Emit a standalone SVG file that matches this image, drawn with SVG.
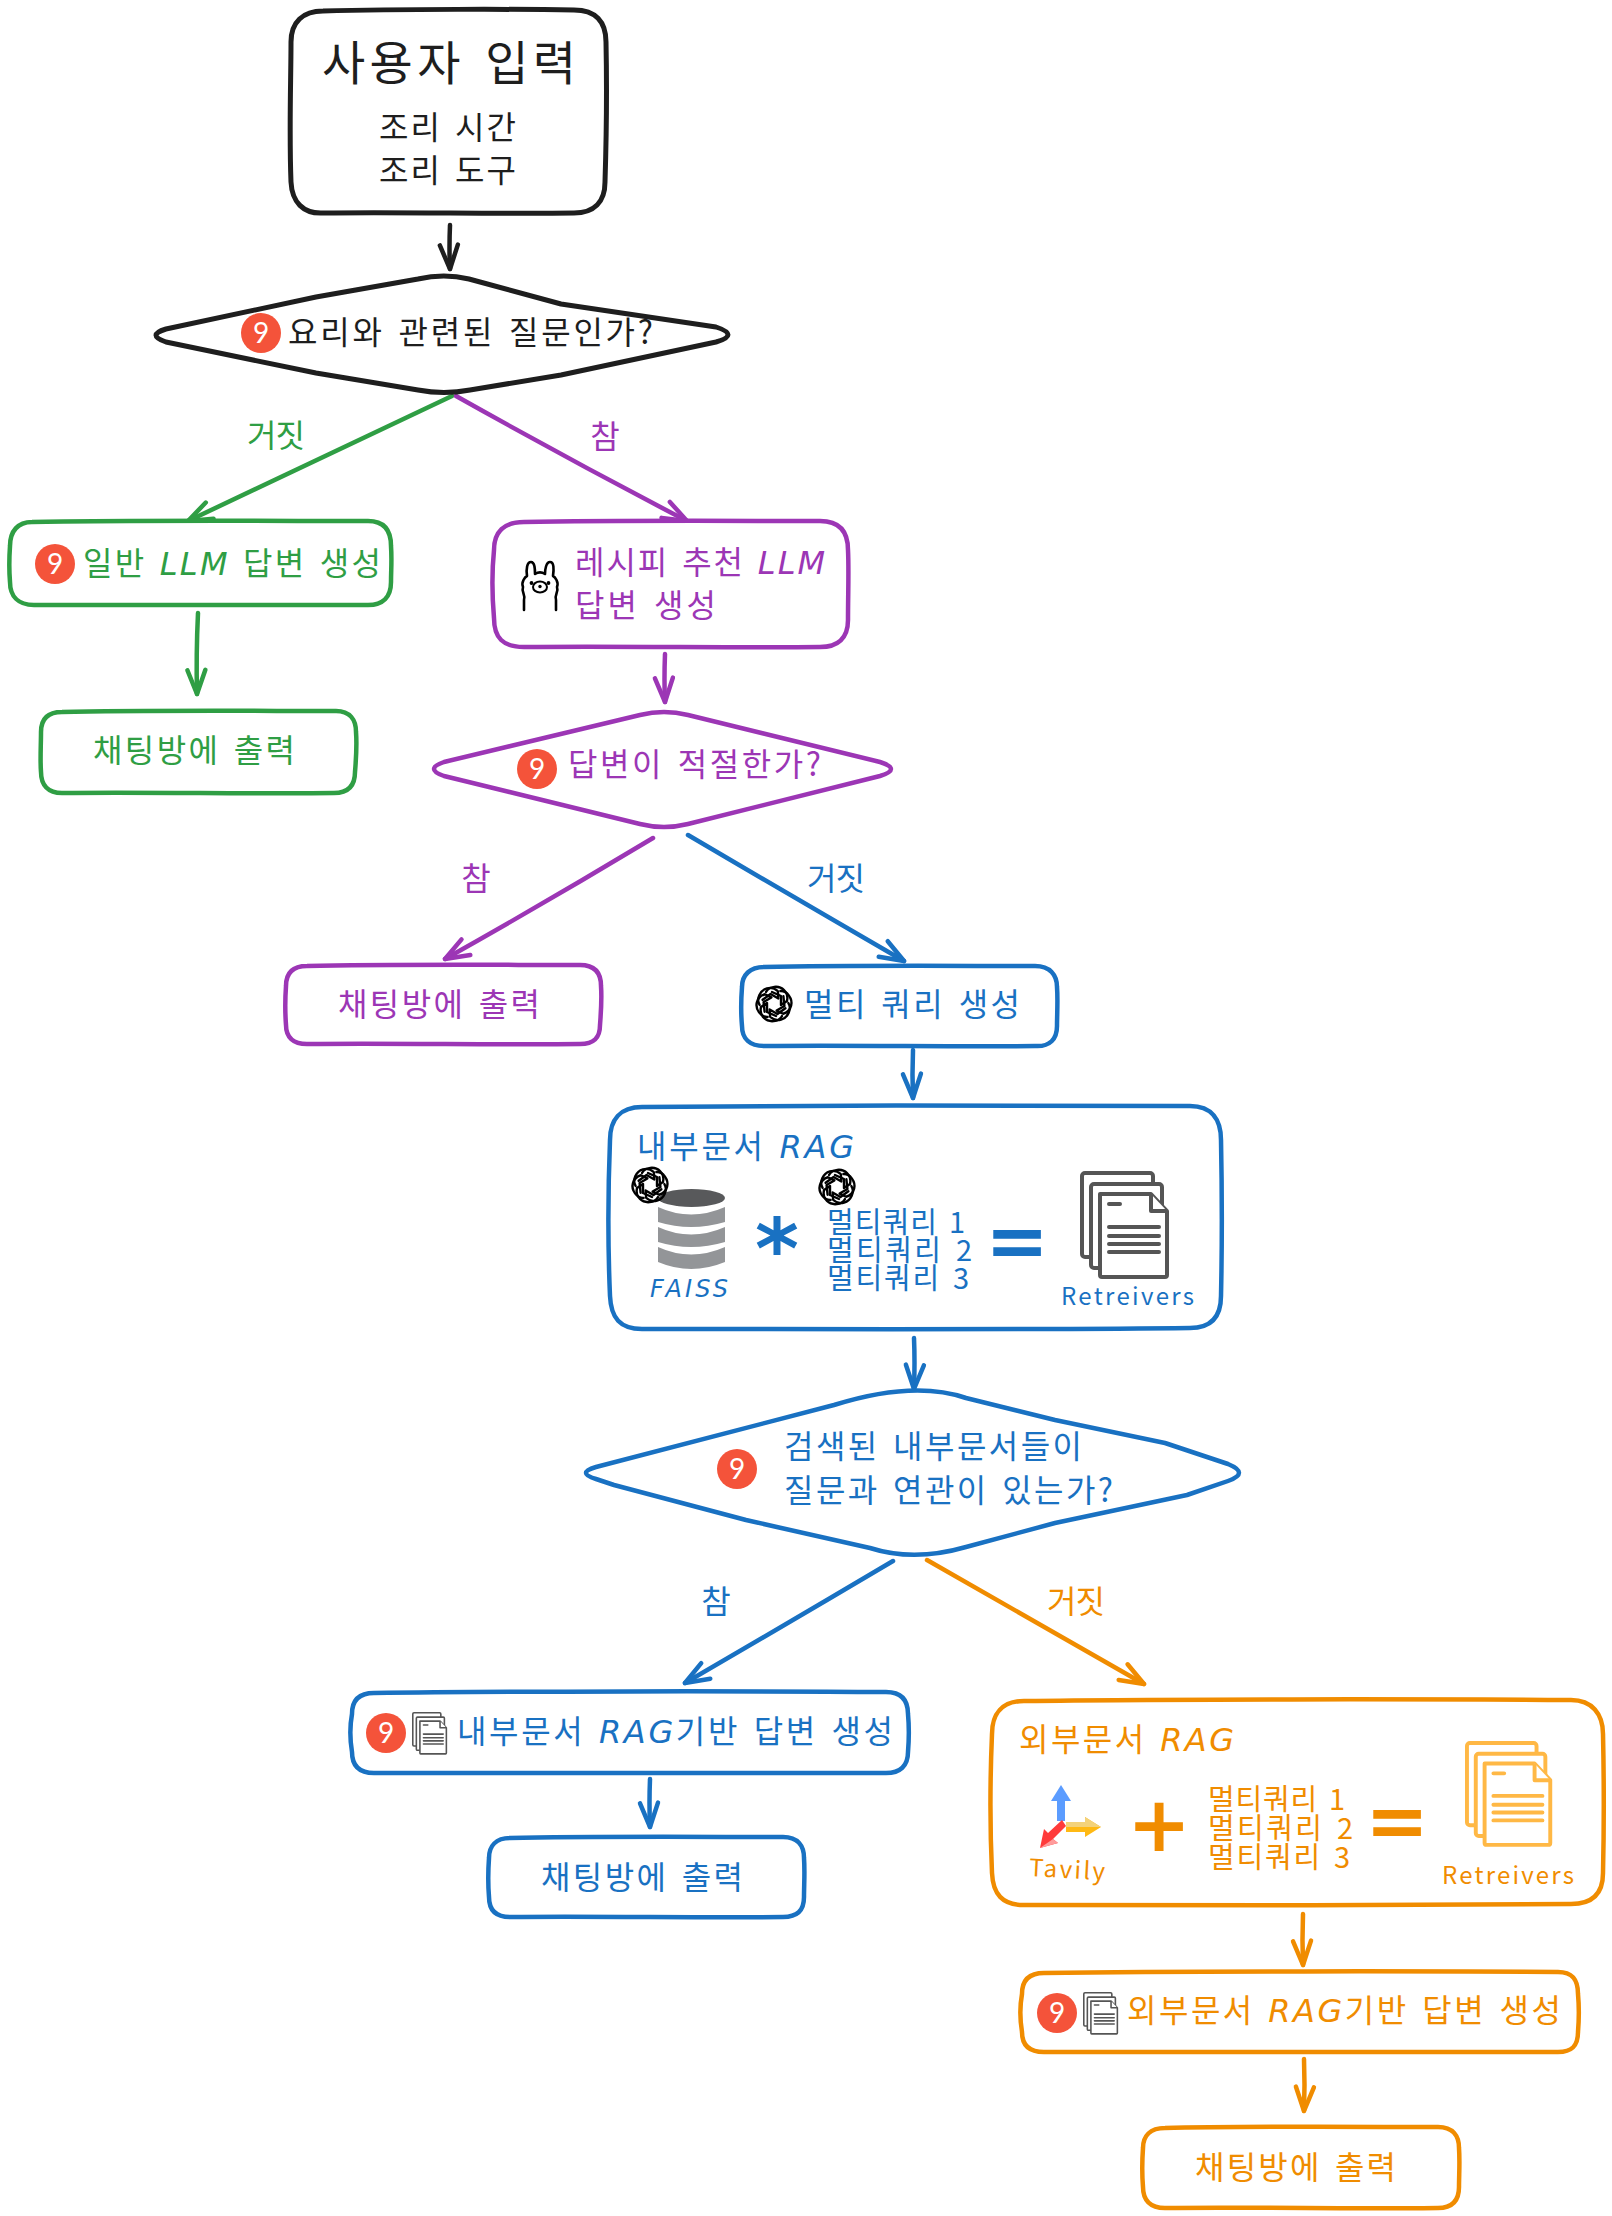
<svg xmlns="http://www.w3.org/2000/svg" xmlns:xlink="http://www.w3.org/1999/xlink" width="1612" height="2216" viewBox="0 0 1612 2216">
<style>
text{font-family:"Noto Sans CJK KR","Noto Sans",sans-serif;font-size:32px;word-spacing:.12em}
.k{color:#1e1e1e}.g{color:#2f9e44}.p{color:#9c36b5}.b{color:#1971c2}.o{color:#f08c00}
.k text,.g text,.p text,.b text,.o text{fill:currentColor}
.shape{fill:#fff;stroke:currentColor;stroke-width:4.500;stroke-linejoin:round}
.lat{font-family:"DejaVu Sans",sans-serif;font-style:italic}
.m{text-anchor:middle}
.s28{font-size:29px}.s24{font-size:24px}
.conn path{fill:none;stroke-width:4.500;stroke-linecap:round}
.badge circle{fill:#f4533a}
.badge text{fill:#fff;font-family:Lato,sans-serif;font-size:28px;text-anchor:middle}
.sym{font-family:"DejaVu Sans",sans-serif;font-weight:bold;text-anchor:middle;word-spacing:0}
.sheet{fill:#fff;stroke:currentColor;stroke-width:4;stroke-linejoin:round}
.ln{fill:none;stroke:currentColor;stroke-width:4;stroke-linecap:round}
.arm{fill:none;stroke:#000;stroke-width:2.400;stroke-linecap:round;stroke-linejoin:round}
</style>
<defs>
<marker id="mk" markerUnits="userSpaceOnUse" markerWidth="30" markerHeight="24" refX="28" refY="12" orient="auto" overflow="visible"><path d="M4 3L28 12L4 21" fill="none" stroke="#1e1e1e" stroke-width="4.500" stroke-linecap="round" stroke-linejoin="round"/></marker>
<marker id="mg" markerUnits="userSpaceOnUse" markerWidth="30" markerHeight="24" refX="28" refY="12" orient="auto" overflow="visible"><path d="M4 3L28 12L4 21" fill="none" stroke="#2f9e44" stroke-width="4.500" stroke-linecap="round" stroke-linejoin="round"/></marker>
<marker id="mp" markerUnits="userSpaceOnUse" markerWidth="30" markerHeight="24" refX="28" refY="12" orient="auto" overflow="visible"><path d="M4 3L28 12L4 21" fill="none" stroke="#9c36b5" stroke-width="4.500" stroke-linecap="round" stroke-linejoin="round"/></marker>
<marker id="mb" markerUnits="userSpaceOnUse" markerWidth="30" markerHeight="24" refX="28" refY="12" orient="auto" overflow="visible"><path d="M4 3L28 12L4 21" fill="none" stroke="#1971c2" stroke-width="4.500" stroke-linecap="round" stroke-linejoin="round"/></marker>
<marker id="mo" markerUnits="userSpaceOnUse" markerWidth="30" markerHeight="24" refX="28" refY="12" orient="auto" overflow="visible"><path d="M4 3L28 12L4 21" fill="none" stroke="#f08c00" stroke-width="4.500" stroke-linecap="round" stroke-linejoin="round"/></marker>
<g id="docs">
<rect class="sheet" x="2" y="2" width="71" height="84" rx="3"/>
<rect class="sheet" x="11" y="13" width="71" height="84" rx="3"/>
<path class="sheet" d="M20 23H71L87 40V104Q87 106 85 106H22Q20 106 20 104Z"/>
<path class="sheet" d="M71 23V40H87" fill="none"/>
<path class="ln" d="M29 33H40M29 56H79M29 65H79M29 73H79M29 81H79"/>
</g>
<path id="ai-arm" class="arm" d="M-8 -12C-5 -18 5 -19 10 -14C13 -11 14 -7 13 -3L7 1V-8L-2 -12"/>
<g id="ai">
<circle r="15" fill="#fff"/>
<use href="#ai-arm"/>
<use href="#ai-arm" transform="rotate(60)"/>
<use href="#ai-arm" transform="rotate(120)"/>
<use href="#ai-arm" transform="rotate(180)"/>
<use href="#ai-arm" transform="rotate(240)"/>
<use href="#ai-arm" transform="rotate(300)"/>
</g>
</defs>

<g id="connectors" class="conn">
<path stroke="#1e1e1e" marker-end="url(#mk)" d="M450 225Q449 248 450 269"/>
<path stroke="#2f9e44" marker-end="url(#mg)" d="M452 396Q320 458 188 521"/>
<path stroke="#9c36b5" marker-end="url(#mp)" d="M456 396Q570 460 687 521"/>
<path stroke="#2f9e44" marker-end="url(#mg)" d="M198 613Q196 655 197 694"/>
<path stroke="#9c36b5" marker-end="url(#mp)" d="M665 654Q664 680 665 702"/>
<path stroke="#9c36b5" marker-end="url(#mp)" d="M653 838Q550 900 445 959"/>
<path stroke="#1971c2" marker-end="url(#mb)" d="M688 835Q795 898 904 961"/>
<path stroke="#1971c2" marker-end="url(#mb)" d="M913 1050Q912 1075 913 1098"/>
<path stroke="#1971c2" marker-end="url(#mb)" d="M914 1338Q915 1362 914 1389"/>
<path stroke="#1971c2" marker-end="url(#mb)" d="M893 1561Q790 1622 685 1683"/>
<path stroke="#f08c00" marker-end="url(#mo)" d="M927 1560Q1035 1622 1144 1684"/>
<path stroke="#1971c2" marker-end="url(#mb)" d="M650 1779Q649 1803 650 1827"/>
<path stroke="#f08c00" marker-end="url(#mo)" d="M1303 1914Q1302 1940 1303 1965"/>
<path stroke="#f08c00" marker-end="url(#mo)" d="M1304 2059Q1305 2085 1304 2111"/>
</g>

<g id="edge-labels">
<g class="g"><text class="m" x="276" y="447" textLength="58">거짓</text></g>
<g class="p"><text class="m" x="605" y="448">참</text></g>
<g class="p"><text class="m" x="476" y="890">참</text></g>
<g class="b"><text class="m" x="836" y="890" textLength="58">거짓</text></g>
<g class="b"><text class="m" x="716" y="1613">참</text></g>
<g class="o"><text class="m" x="1076" y="1613" textLength="58">거짓</text></g>
</g>

<g id="input" class="k">
<path class="shape" style="stroke-width:5" d="M323 11C400 9 520 9 574 10C596 10 606 22 606 42C607 90 606 150 605 182C605 202 594 213 574 213C500 214 400 212 323 213C303 214 292 202 291 182C289 130 291 80 291 42C291 22 303 11 323 11Z"/>
<text x="322" y="80" style="font-size:47px" textLength="254">사용자 입력</text>
<text x="379" y="139" textLength="137">조리 시간</text>
<text x="379" y="182" textLength="137">조리 도구</text>
</g>

<g id="decision-cooking" class="k">
<path class="shape" style="stroke-width:5" d="M166 329L316 297L418 279Q444 273 469 279L561 304L716 327Q740 335 716 342L561 375L470 390Q444 395 418 390L316 373L166 342Q146 335 166 329Z"/>
<g class="badge"><circle cx="261" cy="333" r="20"/><text x="261" y="343">9</text></g>
<text x="288" y="344" textLength="365">요리와 관련된 질문인가?</text>
</g>

<g id="general-llm" class="g">
<path class="shape" d="M32 522C120 520 280 521 368 521C384 521 391 530 391 546C392 560 391 570 391 582C391 597 383 605 368 605C280 606 120 604 34 605C18 605 10 596 10 582C9 570 9 560 10 546C10 531 18 522 32 522Z"/>
<g class="badge"><circle cx="55" cy="564" r="20"/><text x="55" y="574">9</text></g>
<text x="83" y="575" textLength="298">일반 <tspan class="lat">LLM</tspan> 답변 생성</text>
</g>

<g id="general-output" class="g">
<path class="shape" d="M62 712C140 710 260 711 336 711C350 711 356 720 356 732C357 745 356 760 355 772C355 786 348 793 334 793C260 794 140 792 62 793C48 793 41 785 41 772C40 760 41 745 41 732C41 719 48 712 62 712Z"/>
<text x="93" y="762" textLength="202">채팅방에 출력</text>
</g>

<g id="recipe-llm" class="p">
<path class="shape" d="M524 522C620 520 740 521 820 521C840 521 848 532 848 550C849 570 848 595 848 620C848 638 838 647 820 647C740 648 620 646 524 647C503 647 494 638 494 618C492 595 492 570 494 550C494 532 504 522 524 522Z"/>
<g id="llama-icon" transform="translate(540 585)"><path d="M-16 25V15C-14 10 -19 7 -17 2C-19 -3 -15 -8 -13 -9C-14 -16 -13 -23 -9 -23C-5 -23 -5 -15 -5 -11C-2 -13 2 -13 5 -11C5 -15 6 -23 10 -23C14 -23 14 -16 13 -9C15 -8 19 -3 17 2C19 7 14 10 16 15V25" fill="none" stroke="#000" stroke-width="2.600" stroke-linejoin="round" stroke-linecap="round"/><ellipse cx="0" cy="2" rx="7" ry="5.500" fill="none" stroke="#000" stroke-width="2"/><circle cx="0" cy="1.500" r="1.700"/><circle cx="-8.500" cy="-2" r="1.900"/><circle cx="8.500" cy="-2" r="1.900"/></g>
<text x="575" y="574" textLength="250">레시피 추천 <tspan class="lat">LLM</tspan></text>
<text x="575" y="617" textLength="141">답변 생성</text>
</g>

<g id="decision-answer" class="p">
<path class="shape" d="M444 762L640 715Q664 709 688 715L880 762Q902 769 880 776L688 824Q664 830 640 824L444 776Q424 769 444 762Z"/>
<g class="badge"><circle cx="537" cy="769" r="20"/><text x="537" y="779">9</text></g>
<text x="568" y="776" textLength="253">답변이 적절한가?</text>
</g>

<g id="recipe-output" class="p">
<path class="shape" d="M307 966C390 964 500 965 580 965C595 965 601 973 601 986C602 1000 601 1012 600 1025C600 1038 594 1044 580 1044C500 1045 390 1043 307 1044C293 1044 286 1037 286 1025C285 1012 285 1000 286 986C286 973 293 966 307 966Z"/>
<text x="338" y="1016" textLength="202">채팅방에 출력</text>
</g>

<g id="multi-query" class="b">
<path class="shape" d="M764 967C850 965 960 966 1035 966C1050 966 1057 975 1057 987C1058 1000 1057 1015 1057 1026C1057 1039 1050 1047 1035 1046C960 1047 850 1045 764 1046C750 1046 742 1039 742 1026C741 1015 741 1000 742 987C742 975 750 967 764 967Z"/>
<use href="#ai" transform="translate(774 1004)"/>
<text x="804" y="1016" textLength="216">멀티 쿼리 생성</text>
</g>

<g id="internal-rag" class="b">
<path class="shape" d="M642 1107C800 1105 1050 1105 1190 1106C1212 1106 1221 1120 1221 1140C1222 1190 1222 1250 1221 1296C1221 1318 1210 1328 1190 1328C1050 1330 800 1329 642 1329C620 1329 611 1318 610 1296C608 1250 608 1190 610 1140C610 1120 620 1107 642 1107Z"/>
<text x="637" y="1158" textLength="217">내부문서 <tspan class="lat">RAG</tspan></text>
<g id="faiss-db">
<path d="M658 1207Q691 1222 725 1207V1222Q691 1232 658 1222Z" fill="#939598"/>
<path d="M658 1227Q691 1242 725 1227V1242Q691 1252 658 1242Z" fill="#939598"/>
<path d="M658 1247Q691 1262 725 1247V1262Q691 1276 658 1262Z" fill="#939598"/>
<ellipse cx="691.500" cy="1198" rx="33.500" ry="9" fill="#58595b"/>
</g>
<use href="#ai" transform="translate(650 1185)"/>
<text class="lat" x="650" y="1297" style="font-size:24px" textLength="78">FAISS</text>
<text class="sym" x="777" y="1278" style="font-size:84px">*</text>
<use href="#ai" transform="translate(837 1187)"/>
<text class="s28" x="827" y="1233" textLength="138">멀티쿼리 1</text>
<text class="s28" x="827" y="1261" textLength="145">멀티쿼리 2</text>
<text class="s28" x="827" y="1289" textLength="142">멀티쿼리 3</text>
<text class="sym" x="1017" y="1267" style="font-size:76px">=</text>
<use href="#docs" x="1080" y="1171" style="color:#555"/>
<text x="1061" y="1305" class="s24" textLength="133">Retreivers</text>
</g>

<g id="decision-relevance" class="b">
<path class="shape" d="M596 1467L834 1405Q914 1380 966 1398L1055 1420L1165 1443L1228 1464Q1250 1473 1228 1481L1187 1495L1055 1523L966 1547Q914 1562 870 1548L746 1520L614 1485L596 1479Q576 1473 596 1467Z"/>
<g class="badge"><circle cx="737" cy="1469" r="20"/><text x="737" y="1479">9</text></g>
<text x="784" y="1458" textLength="298">검색된 내부문서들이</text>
<text x="784" y="1502" textLength="329">질문과 연관이 있는가?</text>
</g>

<g id="internal-answer" class="b">
<path class="shape" d="M374 1693C500 1691 760 1691 886 1692C901 1692 908 1700 908 1714C909 1725 909 1740 908 1752C908 1766 900 1773 886 1773C760 1774 500 1772 374 1773C359 1773 352 1766 352 1752C350 1740 350 1725 352 1714C352 1700 359 1693 374 1693Z"/>
<g class="badge"><circle cx="386" cy="1733" r="20"/><text x="386" y="1743">9</text></g>
<use href="#docs" transform="translate(412 1712) scale(.395)" style="color:#555"/>
<text x="457" y="1743" textLength="436">내부문서 <tspan class="lat">RAG</tspan>기반 답변 생성</text>
</g>

<g id="internal-output" class="b">
<path class="shape" d="M510 1838C590 1836 710 1837 783 1837C798 1837 804 1846 804 1858C805 1872 804 1885 804 1897C804 1911 797 1917 783 1917C710 1918 590 1916 510 1917C496 1917 489 1910 489 1897C488 1885 488 1872 489 1858C489 1846 496 1838 510 1838Z"/>
<text x="541" y="1889" textLength="202">채팅방에 출력</text>
</g>

<g id="external-rag" class="o">
<path class="shape" d="M1024 1701C1160 1699 1420 1699 1571 1700C1592 1700 1603 1714 1603 1734C1604 1780 1604 1830 1603 1873C1603 1894 1592 1904 1571 1904C1420 1906 1160 1905 1024 1905C1002 1905 993 1894 992 1873C990 1830 990 1780 992 1734C992 1714 1002 1701 1024 1701Z"/>
<text x="1019" y="1751" textLength="215">외부문서 <tspan class="lat">RAG</tspan></text>
<g id="tavily-icon">
<path d="M1061 1785L1071 1801H1065V1821H1057V1801H1051Z" fill="#5b9cff"/>
<path d="M1101 1827L1085 1817V1822H1066V1832H1085V1837Z" fill="#ffb914"/>
<path d="M1066 1822H1085V1817L1101 1827H1066Z" fill="#f3d27a"/>
<path d="M1040 1848L1044 1829L1048 1833L1062 1820L1066 1826L1053 1839L1058 1843Z" fill="#ff3b3b"/>
<path d="M1040 1848L1053 1839L1058 1843Z" fill="#ff9c9c"/>
</g>
<text x="1029" y="1878" class="s24" textLength="76" transform="rotate(3 1066 1870)">Tavily</text>
<text class="sym" x="1159" y="1851" style="font-size:76px">+</text>
<text class="s28" x="1208" y="1810" textLength="137">멀티쿼리 1</text>
<text class="s28" x="1208" y="1839" textLength="145">멀티쿼리 2</text>
<text class="s28" x="1208" y="1868" textLength="142">멀티쿼리 3</text>
<text class="sym" x="1397" y="1847" style="font-size:76px">=</text>
<use href="#docs" transform="translate(1465 1741) scale(.98)" style="color:#ffb845"/>
<text x="1442" y="1884" class="s24" textLength="132">Retreivers</text>
</g>

<g id="external-answer" class="o">
<path class="shape" d="M1044 1973C1180 1971 1430 1971 1558 1972C1573 1972 1578 1980 1578 1994C1579 2005 1579 2020 1578 2032C1578 2046 1572 2052 1558 2052C1430 2053 1180 2051 1044 2052C1029 2052 1022 2045 1022 2032C1020 2020 1020 2005 1022 1994C1022 1980 1029 1973 1044 1973Z"/>
<g class="badge"><circle cx="1057" cy="2013" r="20"/><text x="1057" y="2023">9</text></g>
<use href="#docs" transform="translate(1083 1992) scale(.395)" style="color:#555"/>
<text x="1127" y="2022" textLength="434">외부문서 <tspan class="lat">RAG</tspan>기반 답변 생성</text>
</g>

<g id="external-output" class="o">
<path class="shape" d="M1165 2128C1240 2126 1370 2127 1438 2127C1453 2127 1459 2136 1459 2148C1460 2162 1459 2175 1459 2187C1459 2201 1452 2208 1438 2208C1370 2209 1240 2207 1165 2208C1150 2208 1143 2200 1143 2187C1142 2175 1142 2162 1143 2148C1143 2136 1150 2128 1165 2128Z"/>
<text x="1195" y="2179" textLength="201">채팅방에 출력</text>
</g>
</svg>
